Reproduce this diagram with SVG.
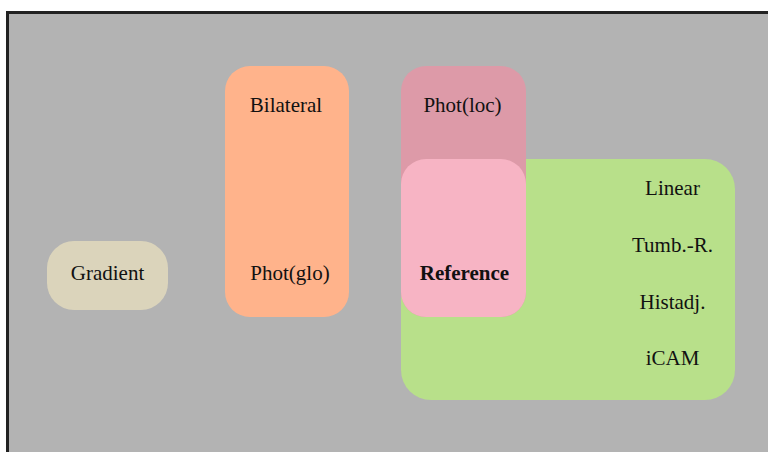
<svg xmlns="http://www.w3.org/2000/svg" width="768" height="452" viewBox="0 0 768 452">
  <style>
    text { font-family: "Liberation Serif", "DejaVu Serif", serif; font-size: 21px; fill: #111; text-anchor: middle; }
    .bold { font-weight: bold; }
  </style>
  <!-- canvas -->
  <rect x="0" y="0" width="768" height="452" fill="#ffffff"/>
  <rect x="7.5" y="12.5" width="780" height="460" fill="#b3b3b3" stroke="#222222" stroke-width="3"/>

  <g id="gradient">
    <rect x="47" y="241" width="121" height="69" rx="27" ry="27" fill="#dbd4bb"/>
    <text x="107.5" y="280">Gradient</text>
  </g>

  <g id="global">
    <rect x="225" y="66" width="124" height="251" rx="25" ry="25" fill="#ffb38b"/>
    <text x="286" y="112">Bilateral</text>
    <text x="290" y="280">Phot(glo)</text>
  </g>

  <g id="operators">
    <rect x="401" y="159" width="334" height="241" rx="30" ry="30" fill="#b8e08a"/>
    <text x="672.5" y="195">Linear</text>
    <text x="672.5" y="252">Tumb.-R.</text>
    <text x="672.5" y="309">Histadj.</text>
    <text x="672.5" y="365">iCAM</text>
  </g>

  <g id="local">
    <rect x="401" y="66" width="125" height="251" rx="25" ry="25" fill="#dd9aa8"/>
    <text x="462.5" y="112">Phot(loc)</text>
  </g>

  <g id="reference">
    <rect x="401" y="159" width="125" height="158" rx="25" ry="25" fill="#f7b4c4"/>
    <text class="bold" x="464.5" y="280">Reference</text>
  </g>

  <g id="connectors"/>
</svg>
